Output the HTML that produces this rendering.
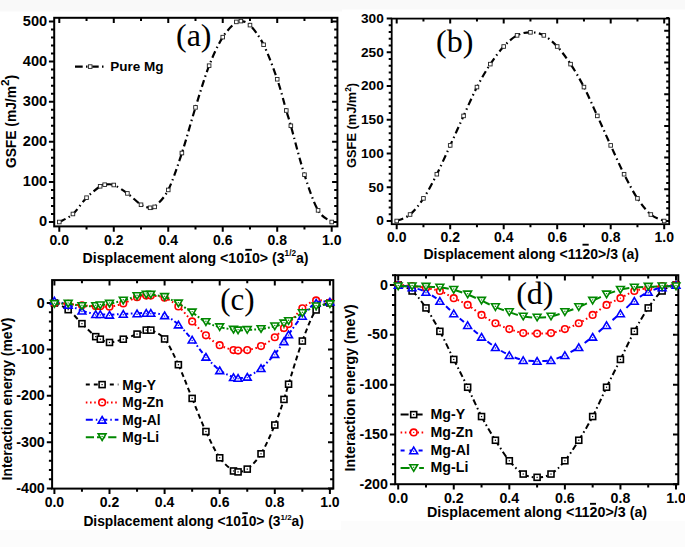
<!DOCTYPE html>
<html><head><meta charset="utf-8"><style>
html,body{margin:0;padding:0;background:#fff;width:685px;height:547px;overflow:hidden}
svg{display:block}
</style></head><body>
<svg width="685" height="547" viewBox="0 0 685 547" style="font-family:'Liberation Sans',sans-serif;font-weight:bold">
<rect x="0" y="0" width="685" height="547" fill="#fff"/>
<rect x="0" y="0" width="342" height="11.5" fill="#f9f9f9"/>
<rect x="342" y="0" width="343" height="9.5" fill="#f9f9f9"/>
<rect x="0" y="530" width="341" height="17" fill="#fcfcfc"/>
<rect x="341" y="521" width="344" height="26" fill="#fcfcfc"/>
<rect x="54.2" y="17.8" width="283.2" height="208.6" fill="none" stroke="#000" stroke-width="2"/>
<path d="M59.3,226.4v5.3 M59.3,17.8v5.3 M86.54,226.4v3.2 M86.54,17.8v3.2 M113.78,226.4v5.3 M113.78,17.8v5.3 M141.02,226.4v3.2 M141.02,17.8v3.2 M168.26,226.4v5.3 M168.26,17.8v5.3 M195.5,226.4v3.2 M195.5,17.8v3.2 M222.74,226.4v5.3 M222.74,17.8v5.3 M249.98,226.4v3.2 M249.98,17.8v3.2 M277.22,226.4v5.3 M277.22,17.8v5.3 M304.46,226.4v3.2 M304.46,17.8v3.2 M331.7,226.4v5.3 M331.7,17.8v5.3 M54.2,222h-5.3 M337.4,222h-5.3 M54.2,213.98h-3.2 M337.4,213.98h-3.2 M54.2,205.96h-3.2 M337.4,205.96h-3.2 M54.2,197.94h-3.2 M337.4,197.94h-3.2 M54.2,189.92h-3.2 M337.4,189.92h-3.2 M54.2,181.9h-5.3 M337.4,181.9h-5.3 M54.2,173.88h-3.2 M337.4,173.88h-3.2 M54.2,165.86h-3.2 M337.4,165.86h-3.2 M54.2,157.84h-3.2 M337.4,157.84h-3.2 M54.2,149.82h-3.2 M337.4,149.82h-3.2 M54.2,141.8h-5.3 M337.4,141.8h-5.3 M54.2,133.78h-3.2 M337.4,133.78h-3.2 M54.2,125.76h-3.2 M337.4,125.76h-3.2 M54.2,117.74h-3.2 M337.4,117.74h-3.2 M54.2,109.72h-3.2 M337.4,109.72h-3.2 M54.2,101.7h-5.3 M337.4,101.7h-5.3 M54.2,93.68h-3.2 M337.4,93.68h-3.2 M54.2,85.66h-3.2 M337.4,85.66h-3.2 M54.2,77.64h-3.2 M337.4,77.64h-3.2 M54.2,69.62h-3.2 M337.4,69.62h-3.2 M54.2,61.6h-5.3 M337.4,61.6h-5.3 M54.2,53.58h-3.2 M337.4,53.58h-3.2 M54.2,45.56h-3.2 M337.4,45.56h-3.2 M54.2,37.54h-3.2 M337.4,37.54h-3.2 M54.2,29.52h-3.2 M337.4,29.52h-3.2 M54.2,21.5h-5.3 M337.4,21.5h-5.3" stroke="#000" stroke-width="2" fill="none"/>
<text x="59.3" y="245" font-size="14" text-anchor="middle">0.0</text>
<text x="113.78" y="245" font-size="14" text-anchor="middle">0.2</text>
<text x="168.26" y="245" font-size="14" text-anchor="middle">0.4</text>
<text x="222.74" y="245" font-size="14" text-anchor="middle">0.6</text>
<text x="277.22" y="245" font-size="14" text-anchor="middle">0.8</text>
<text x="331.7" y="245" font-size="14" text-anchor="middle">1.0</text>
<text x="47.2" y="226.2" font-size="14.6" text-anchor="end">0</text>
<text x="47.2" y="186.1" font-size="14.6" text-anchor="end">100</text>
<text x="47.2" y="146" font-size="14.6" text-anchor="end">200</text>
<text x="47.2" y="105.9" font-size="14.6" text-anchor="end">300</text>
<text x="47.2" y="65.8" font-size="14.6" text-anchor="end">400</text>
<text x="47.2" y="25.7" font-size="14.6" text-anchor="end">500</text>
<text x="82.6" y="262.6" font-size="14.15">Displacement along &lt;1010&gt; (3<tspan font-size="8.21" dy="-6.79">1/2</tspan><tspan dy="6.79">a)</tspan></text><path d="M245.3,249.8H251.9" stroke="#000" stroke-width="1.9"/>
<text transform="translate(16,121.5) rotate(-90)" font-size="13.8" text-anchor="middle">GSFE (mJ/m<tspan font-size="11.73" dy="-6.9">2</tspan><tspan dy="6.9">)</tspan></text>
<text x="193.75" y="45.58" font-size="32" text-anchor="middle" font-family="Liberation Serif, serif" font-weight="normal">(a)</text>
<path d="M59.3,222 C61.57,220.66 68.38,218.03 72.92,213.98 C77.46,209.93 82,202.31 86.54,197.7 C91.08,193.09 97.13,188.48 100.16,186.31 C103.19,184.15 102.43,184.93 104.7,184.71 C106.97,184.49 110,183.54 113.78,184.99 C117.56,186.44 122.86,190.11 127.4,193.41 C131.94,196.7 137.24,202.36 141.02,204.76 C144.8,207.16 147.83,207.45 150.1,207.8 C152.37,208.16 151.61,209.86 154.64,206.88 C157.67,203.9 163.72,198.9 168.26,189.92 C172.8,180.94 177.34,166.78 181.88,153.03 C186.42,139.27 190.96,121.95 195.5,107.39 C200.04,92.84 204.58,77.4 209.12,65.69 C213.66,53.98 218.2,44.44 222.74,37.14 C227.28,29.84 233.33,24.57 236.36,21.9 C239.39,19.23 238.63,20.56 240.9,21.1 C243.17,21.63 246.2,21.17 249.98,25.11 C253.76,29.05 259.06,35.74 263.6,44.76 C268.14,53.78 273.44,68.28 277.22,79.24 C281,90.2 284.03,102.77 286.3,110.52 C288.57,118.27 287.81,115.07 290.84,125.76 C293.87,136.45 299.92,160.58 304.46,174.68 C309,188.78 313.54,202.48 318.08,210.37 C322.62,218.26 329.43,220.06 331.7,222" fill="none" stroke="#000" stroke-width="2.2" stroke-dasharray="7 3.5 1.5 3.5" stroke-linecap="butt"/>
<rect x="57.5" y="220.2" width="3.6" height="3.6" fill="#fff" stroke="#222" stroke-width="0.9"/>
<rect x="71.12" y="212.18" width="3.6" height="3.6" fill="#fff" stroke="#222" stroke-width="0.9"/>
<rect x="84.74" y="195.9" width="3.6" height="3.6" fill="#fff" stroke="#222" stroke-width="0.9"/>
<rect x="98.36" y="184.51" width="3.6" height="3.6" fill="#fff" stroke="#222" stroke-width="0.9"/>
<rect x="102.9" y="182.91" width="3.6" height="3.6" fill="#fff" stroke="#222" stroke-width="0.9"/>
<rect x="111.98" y="183.19" width="3.6" height="3.6" fill="#fff" stroke="#222" stroke-width="0.9"/>
<rect x="125.6" y="191.61" width="3.6" height="3.6" fill="#fff" stroke="#222" stroke-width="0.9"/>
<rect x="139.22" y="202.96" width="3.6" height="3.6" fill="#fff" stroke="#222" stroke-width="0.9"/>
<rect x="148.3" y="206" width="3.6" height="3.6" fill="#fff" stroke="#222" stroke-width="0.9"/>
<rect x="152.84" y="205.08" width="3.6" height="3.6" fill="#fff" stroke="#222" stroke-width="0.9"/>
<rect x="166.46" y="188.12" width="3.6" height="3.6" fill="#fff" stroke="#222" stroke-width="0.9"/>
<rect x="180.08" y="151.23" width="3.6" height="3.6" fill="#fff" stroke="#222" stroke-width="0.9"/>
<rect x="193.7" y="105.59" width="3.6" height="3.6" fill="#fff" stroke="#222" stroke-width="0.9"/>
<rect x="207.32" y="63.89" width="3.6" height="3.6" fill="#fff" stroke="#222" stroke-width="0.9"/>
<rect x="220.94" y="35.34" width="3.6" height="3.6" fill="#fff" stroke="#222" stroke-width="0.9"/>
<rect x="234.56" y="20.1" width="3.6" height="3.6" fill="#fff" stroke="#222" stroke-width="0.9"/>
<rect x="239.1" y="19.3" width="3.6" height="3.6" fill="#fff" stroke="#222" stroke-width="0.9"/>
<rect x="248.18" y="23.31" width="3.6" height="3.6" fill="#fff" stroke="#222" stroke-width="0.9"/>
<rect x="261.8" y="42.96" width="3.6" height="3.6" fill="#fff" stroke="#222" stroke-width="0.9"/>
<rect x="275.42" y="77.44" width="3.6" height="3.6" fill="#fff" stroke="#222" stroke-width="0.9"/>
<rect x="284.5" y="108.72" width="3.6" height="3.6" fill="#fff" stroke="#222" stroke-width="0.9"/>
<rect x="289.04" y="123.96" width="3.6" height="3.6" fill="#fff" stroke="#222" stroke-width="0.9"/>
<rect x="302.66" y="172.88" width="3.6" height="3.6" fill="#fff" stroke="#222" stroke-width="0.9"/>
<rect x="316.28" y="208.57" width="3.6" height="3.6" fill="#fff" stroke="#222" stroke-width="0.9"/>
<rect x="329.9" y="220.2" width="3.6" height="3.6" fill="#fff" stroke="#222" stroke-width="0.9"/>
<path d="M75,66.6h7.7M86,66.6h1.5M92.3,66.6h6.4M102,66.6h1.5" stroke="#000" stroke-width="2.2"/>
<rect x="88.4" y="64.8" width="3.6" height="3.6" fill="#fff" stroke="#222" stroke-width="0.9"/>
<text x="110.3" y="71" font-size="13.5">Pure Mg</text>
<rect x="391.7" y="18.6" width="277.5" height="205.6" fill="none" stroke="#000" stroke-width="1.8"/>
<path d="M396.7,224.2v5 M396.7,18.6v5 M423.45,224.2v3 M423.45,18.6v3 M450.2,224.2v5 M450.2,18.6v5 M476.95,224.2v3 M476.95,18.6v3 M503.7,224.2v5 M503.7,18.6v5 M530.45,224.2v3 M530.45,18.6v3 M557.2,224.2v5 M557.2,18.6v5 M583.95,224.2v3 M583.95,18.6v3 M610.7,224.2v5 M610.7,18.6v5 M637.45,224.2v3 M637.45,18.6v3 M664.2,224.2v5 M664.2,18.6v5 M391.7,221h-5 M391.7,214.25h-3 M391.7,207.5h-3 M391.7,200.75h-3 M391.7,194h-3 M391.7,187.25h-5 M391.7,180.5h-3 M391.7,173.75h-3 M391.7,167h-3 M391.7,160.25h-3 M391.7,153.5h-5 M391.7,146.75h-3 M391.7,140h-3 M391.7,133.25h-3 M391.7,126.5h-3 M391.7,119.75h-5 M391.7,113h-3 M391.7,106.25h-3 M391.7,99.5h-3 M391.7,92.75h-3 M391.7,86h-5 M391.7,79.25h-3 M391.7,72.5h-3 M391.7,65.75h-3 M391.7,59h-3 M391.7,52.25h-5 M391.7,45.5h-3 M391.7,38.75h-3 M391.7,32h-3 M391.7,25.25h-3 M391.7,18.5h-5 M669.2,221h-5 M669.2,214.66h-3 M669.2,208.32h-3 M669.2,201.98h-3 M669.2,195.64h-3 M669.2,189.3h-5 M669.2,182.96h-3 M669.2,176.62h-3 M669.2,170.28h-3 M669.2,163.94h-3 M669.2,157.6h-5 M669.2,151.26h-3 M669.2,144.92h-3 M669.2,138.58h-3 M669.2,132.24h-3 M669.2,125.9h-5 M669.2,119.56h-3 M669.2,113.22h-3 M669.2,106.88h-3 M669.2,100.54h-3 M669.2,94.2h-5 M669.2,87.86h-3 M669.2,81.52h-3 M669.2,75.18h-3 M669.2,68.84h-3 M669.2,62.5h-5 M669.2,56.16h-3 M669.2,49.82h-3 M669.2,43.48h-3 M669.2,37.14h-3 M669.2,30.8h-5 M669.2,24.46h-3 M669.2,18.12h-3" stroke="#000" stroke-width="2" fill="none"/>
<text x="396.7" y="242.4" font-size="14" text-anchor="middle">0.0</text>
<text x="450.2" y="242.4" font-size="14" text-anchor="middle">0.2</text>
<text x="503.7" y="242.4" font-size="14" text-anchor="middle">0.4</text>
<text x="557.2" y="242.4" font-size="14" text-anchor="middle">0.6</text>
<text x="610.7" y="242.4" font-size="14" text-anchor="middle">0.8</text>
<text x="664.2" y="242.4" font-size="14" text-anchor="middle">1.0</text>
<text x="383.8" y="225.4" font-size="13.7" text-anchor="end">0</text>
<text x="383.8" y="191.65" font-size="13.7" text-anchor="end">50</text>
<text x="383.8" y="157.9" font-size="13.7" text-anchor="end">100</text>
<text x="383.8" y="124.15" font-size="13.7" text-anchor="end">150</text>
<text x="383.8" y="90.4" font-size="13.7" text-anchor="end">200</text>
<text x="383.8" y="56.65" font-size="13.7" text-anchor="end">250</text>
<text x="383.8" y="22.9" font-size="13.7" text-anchor="end">300</text>
<text x="423.4" y="258.9" font-size="14">Displacement along &lt;1120&gt;/3 (a)</text><path d="M582.5,244.7H588.7" stroke="#000" stroke-width="1.9"/>
<text transform="translate(356,125.4) rotate(-90)" font-size="12.8" text-anchor="middle">GSFE (mJ/m<tspan font-size="8.32" dy="-5.12">2</tspan><tspan dy="5.12">)</tspan></text>
<text x="454.75" y="51.98" font-size="32" text-anchor="middle" font-family="Liberation Serif, serif" font-weight="normal">(b)</text>
<path d="M396.7,221 C398.93,219.92 405.62,218.29 410.07,214.52 C414.53,210.75 418.99,205.1 423.45,198.39 C427.91,191.67 432.37,183.05 436.82,174.22 C441.28,165.39 445.74,155.12 450.2,145.4 C454.66,135.68 459.12,125.62 463.57,115.9 C468.03,106.18 472.49,95.71 476.95,87.08 C481.41,78.45 485.87,70.89 490.32,64.13 C494.78,57.37 499.24,51.3 503.7,46.51 C508.16,41.72 512.62,37.74 517.08,35.38 C521.53,33.01 525.99,32.34 530.45,32.34 C534.91,32.34 539.37,33.01 543.83,35.38 C548.28,37.74 552.74,41.72 557.2,46.51 C561.66,51.3 566.12,57.37 570.58,64.13 C575.03,70.89 579.49,78.45 583.95,87.08 C588.41,95.71 592.87,106.18 597.33,115.9 C601.78,125.62 606.24,135.68 610.7,145.4 C615.16,155.12 619.62,165.39 624.08,174.22 C628.53,183.05 632.99,191.67 637.45,198.39 C641.91,205.1 646.37,210.75 650.83,214.52 C655.28,218.29 661.97,219.92 664.2,221" fill="none" stroke="#000" stroke-width="2.2" stroke-dasharray="7 3.5 1.5 3.5" stroke-linecap="butt"/>
<rect x="394.9" y="219.2" width="3.6" height="3.6" fill="#fff" stroke="#222" stroke-width="0.9"/>
<rect x="408.27" y="212.72" width="3.6" height="3.6" fill="#fff" stroke="#222" stroke-width="0.9"/>
<rect x="421.65" y="196.59" width="3.6" height="3.6" fill="#fff" stroke="#222" stroke-width="0.9"/>
<rect x="435.02" y="172.42" width="3.6" height="3.6" fill="#fff" stroke="#222" stroke-width="0.9"/>
<rect x="448.4" y="143.6" width="3.6" height="3.6" fill="#fff" stroke="#222" stroke-width="0.9"/>
<rect x="461.77" y="114.1" width="3.6" height="3.6" fill="#fff" stroke="#222" stroke-width="0.9"/>
<rect x="475.15" y="85.28" width="3.6" height="3.6" fill="#fff" stroke="#222" stroke-width="0.9"/>
<rect x="488.52" y="62.33" width="3.6" height="3.6" fill="#fff" stroke="#222" stroke-width="0.9"/>
<rect x="501.9" y="44.71" width="3.6" height="3.6" fill="#fff" stroke="#222" stroke-width="0.9"/>
<rect x="515.28" y="33.58" width="3.6" height="3.6" fill="#fff" stroke="#222" stroke-width="0.9"/>
<rect x="528.65" y="30.54" width="3.6" height="3.6" fill="#fff" stroke="#222" stroke-width="0.9"/>
<rect x="542.03" y="33.58" width="3.6" height="3.6" fill="#fff" stroke="#222" stroke-width="0.9"/>
<rect x="555.4" y="44.71" width="3.6" height="3.6" fill="#fff" stroke="#222" stroke-width="0.9"/>
<rect x="568.78" y="62.33" width="3.6" height="3.6" fill="#fff" stroke="#222" stroke-width="0.9"/>
<rect x="582.15" y="85.28" width="3.6" height="3.6" fill="#fff" stroke="#222" stroke-width="0.9"/>
<rect x="595.53" y="114.1" width="3.6" height="3.6" fill="#fff" stroke="#222" stroke-width="0.9"/>
<rect x="608.9" y="143.6" width="3.6" height="3.6" fill="#fff" stroke="#222" stroke-width="0.9"/>
<rect x="622.28" y="172.42" width="3.6" height="3.6" fill="#fff" stroke="#222" stroke-width="0.9"/>
<rect x="635.65" y="196.59" width="3.6" height="3.6" fill="#fff" stroke="#222" stroke-width="0.9"/>
<rect x="649.03" y="212.72" width="3.6" height="3.6" fill="#fff" stroke="#222" stroke-width="0.9"/>
<rect x="662.4" y="219.2" width="3.6" height="3.6" fill="#fff" stroke="#222" stroke-width="0.9"/>
<rect x="52.1" y="280.1" width="281.2" height="208.5" fill="none" stroke="#000" stroke-width="2"/>
<path d="M54.4,488.6v5.3 M54.4,280.1v5.3 M81.95,488.6v3.2 M81.95,280.1v3.2 M109.5,488.6v5.3 M109.5,280.1v5.3 M137.05,488.6v3.2 M137.05,280.1v3.2 M164.6,488.6v5.3 M164.6,280.1v5.3 M192.15,488.6v3.2 M192.15,280.1v3.2 M219.7,488.6v5.3 M219.7,280.1v5.3 M247.25,488.6v3.2 M247.25,280.1v3.2 M274.8,488.6v5.3 M274.8,280.1v5.3 M302.35,488.6v3.2 M302.35,280.1v3.2 M329.9,488.6v5.3 M329.9,280.1v5.3 M52.1,488.6h-5.3 M333.3,488.6h-5.3 M52.1,479.32h-3.2 M333.3,479.32h-3.2 M52.1,470.04h-3.2 M333.3,470.04h-3.2 M52.1,460.76h-3.2 M333.3,460.76h-3.2 M52.1,451.48h-3.2 M333.3,451.48h-3.2 M52.1,442.2h-5.3 M333.3,442.2h-5.3 M52.1,432.92h-3.2 M333.3,432.92h-3.2 M52.1,423.64h-3.2 M333.3,423.64h-3.2 M52.1,414.36h-3.2 M333.3,414.36h-3.2 M52.1,405.08h-3.2 M333.3,405.08h-3.2 M52.1,395.8h-5.3 M333.3,395.8h-5.3 M52.1,386.52h-3.2 M333.3,386.52h-3.2 M52.1,377.24h-3.2 M333.3,377.24h-3.2 M52.1,367.96h-3.2 M333.3,367.96h-3.2 M52.1,358.68h-3.2 M333.3,358.68h-3.2 M52.1,349.4h-5.3 M333.3,349.4h-5.3 M52.1,340.12h-3.2 M333.3,340.12h-3.2 M52.1,330.84h-3.2 M333.3,330.84h-3.2 M52.1,321.56h-3.2 M333.3,321.56h-3.2 M52.1,312.28h-3.2 M333.3,312.28h-3.2 M52.1,303h-5.3 M333.3,303h-5.3" stroke="#000" stroke-width="2" fill="none"/>
<text x="54.4" y="507" font-size="14" text-anchor="middle">0.0</text>
<text x="109.5" y="507" font-size="14" text-anchor="middle">0.2</text>
<text x="164.6" y="507" font-size="14" text-anchor="middle">0.4</text>
<text x="219.7" y="507" font-size="14" text-anchor="middle">0.6</text>
<text x="274.8" y="507" font-size="14" text-anchor="middle">0.8</text>
<text x="329.9" y="507" font-size="14" text-anchor="middle">1.0</text>
<text x="44.8" y="493.2" font-size="14.3" text-anchor="end">-400</text>
<text x="44.8" y="446.8" font-size="14.3" text-anchor="end">-300</text>
<text x="44.8" y="400.4" font-size="14.3" text-anchor="end">-200</text>
<text x="44.8" y="354" font-size="14.3" text-anchor="end">-100</text>
<text x="44.8" y="307.6" font-size="14.3" text-anchor="end">0</text>
<text x="83.4" y="526.3" font-size="13.8">Displacement along &lt;1010&gt; (3<tspan font-size="8" dy="-6.62">1/2</tspan><tspan dy="6.62">a)</tspan></text><path d="M242.3,513.2H247.8" stroke="#000" stroke-width="1.9"/>
<text transform="translate(12.3,399) rotate(-90)" font-size="13.9" text-anchor="middle">Interaction energy (meV)</text>
<text x="237.45" y="310.03" font-size="31" text-anchor="middle" font-family="Liberation Serif, serif" font-weight="normal">(c)</text>
<path d="M54.4,303 C56.7,304.11 63.58,306.24 68.17,309.68 M68.17,309.68 C72.77,313.12 77.36,319.15 81.95,323.65 M81.95,323.65 C86.54,328.14 92.66,334.05 95.72,336.64 M95.72,336.64 C98.79,339.23 98.02,338.23 100.32,339.19 M100.32,339.19 C102.61,340.16 105.67,342.44 109.5,342.44 M109.5,342.44 C113.33,342.44 118.68,340.58 123.28,339.19 M123.28,339.19 C127.87,337.8 133.22,335.6 137.05,334.09 M137.05,334.09 C140.88,332.58 143.94,330.8 146.23,330.14 M146.23,330.14 C148.53,329.49 147.76,328.67 150.82,330.14 M150.82,330.14 C153.89,331.61 160.01,333.2 164.6,338.96 M164.6,338.96 C169.19,344.72 173.78,354.81 178.38,364.71 M178.38,364.71 C182.97,374.62 187.56,387.26 192.15,398.4 M192.15,398.4 C196.74,409.53 201.33,421.63 205.93,431.53 M205.93,431.53 C210.52,441.43 215.11,451.22 219.7,457.79 M219.7,457.79 C224.29,464.36 230.41,468.62 233.48,470.97 M233.48,470.97 C236.54,473.32 235.77,472.21 238.07,471.9 M238.07,471.9 C240.36,471.59 243.42,472.13 247.25,469.11 M247.25,469.11 C251.08,466.1 256.43,461.15 261.02,453.8 M261.02,453.8 C265.62,446.45 270.97,434.1 274.8,425.03 M274.8,425.03 C278.63,415.97 281.69,406.22 283.98,399.42 M283.98,399.42 C286.28,392.61 285.51,393.93 288.57,384.2 M288.57,384.2 C291.64,374.47 297.76,353.42 302.35,341.05 M302.35,341.05 C306.94,328.67 311.53,316.3 316.12,309.96 M316.12,309.96 C320.72,303.62 327.6,304.16 329.9,303" fill="none" stroke="#000" stroke-width="2" stroke-dasharray="5 3.3" stroke-linecap="butt"/>
<rect x="51.4" y="300" width="6" height="6" fill="#fff" stroke="#000" stroke-width="1.6"/><rect x="53.8" y="302.4" width="1.2" height="1.2" fill="#000"/>
<rect x="65.17" y="306.68" width="6" height="6" fill="#fff" stroke="#000" stroke-width="1.6"/><rect x="67.58" y="309.08" width="1.2" height="1.2" fill="#000"/>
<rect x="78.95" y="320.65" width="6" height="6" fill="#fff" stroke="#000" stroke-width="1.6"/><rect x="81.35" y="323.05" width="1.2" height="1.2" fill="#000"/>
<rect x="92.72" y="333.64" width="6" height="6" fill="#fff" stroke="#000" stroke-width="1.6"/><rect x="95.12" y="336.04" width="1.2" height="1.2" fill="#000"/>
<rect x="97.32" y="336.19" width="6" height="6" fill="#fff" stroke="#000" stroke-width="1.6"/><rect x="99.72" y="338.59" width="1.2" height="1.2" fill="#000"/>
<rect x="106.5" y="339.44" width="6" height="6" fill="#fff" stroke="#000" stroke-width="1.6"/><rect x="108.9" y="341.84" width="1.2" height="1.2" fill="#000"/>
<rect x="120.28" y="336.19" width="6" height="6" fill="#fff" stroke="#000" stroke-width="1.6"/><rect x="122.68" y="338.59" width="1.2" height="1.2" fill="#000"/>
<rect x="134.05" y="331.09" width="6" height="6" fill="#fff" stroke="#000" stroke-width="1.6"/><rect x="136.45" y="333.49" width="1.2" height="1.2" fill="#000"/>
<rect x="143.23" y="327.14" width="6" height="6" fill="#fff" stroke="#000" stroke-width="1.6"/><rect x="145.63" y="329.54" width="1.2" height="1.2" fill="#000"/>
<rect x="147.82" y="327.14" width="6" height="6" fill="#fff" stroke="#000" stroke-width="1.6"/><rect x="150.22" y="329.54" width="1.2" height="1.2" fill="#000"/>
<rect x="161.6" y="335.96" width="6" height="6" fill="#fff" stroke="#000" stroke-width="1.6"/><rect x="164" y="338.36" width="1.2" height="1.2" fill="#000"/>
<rect x="175.38" y="361.71" width="6" height="6" fill="#fff" stroke="#000" stroke-width="1.6"/><rect x="177.78" y="364.11" width="1.2" height="1.2" fill="#000"/>
<rect x="189.15" y="395.4" width="6" height="6" fill="#fff" stroke="#000" stroke-width="1.6"/><rect x="191.55" y="397.8" width="1.2" height="1.2" fill="#000"/>
<rect x="202.93" y="428.53" width="6" height="6" fill="#fff" stroke="#000" stroke-width="1.6"/><rect x="205.33" y="430.93" width="1.2" height="1.2" fill="#000"/>
<rect x="216.7" y="454.79" width="6" height="6" fill="#fff" stroke="#000" stroke-width="1.6"/><rect x="219.1" y="457.19" width="1.2" height="1.2" fill="#000"/>
<rect x="230.48" y="467.97" width="6" height="6" fill="#fff" stroke="#000" stroke-width="1.6"/><rect x="232.88" y="470.37" width="1.2" height="1.2" fill="#000"/>
<rect x="235.07" y="468.9" width="6" height="6" fill="#fff" stroke="#000" stroke-width="1.6"/><rect x="237.47" y="471.3" width="1.2" height="1.2" fill="#000"/>
<rect x="244.25" y="466.11" width="6" height="6" fill="#fff" stroke="#000" stroke-width="1.6"/><rect x="246.65" y="468.51" width="1.2" height="1.2" fill="#000"/>
<rect x="258.02" y="450.8" width="6" height="6" fill="#fff" stroke="#000" stroke-width="1.6"/><rect x="260.42" y="453.2" width="1.2" height="1.2" fill="#000"/>
<rect x="271.8" y="422.03" width="6" height="6" fill="#fff" stroke="#000" stroke-width="1.6"/><rect x="274.2" y="424.43" width="1.2" height="1.2" fill="#000"/>
<rect x="280.98" y="396.42" width="6" height="6" fill="#fff" stroke="#000" stroke-width="1.6"/><rect x="283.38" y="398.82" width="1.2" height="1.2" fill="#000"/>
<rect x="285.57" y="381.2" width="6" height="6" fill="#fff" stroke="#000" stroke-width="1.6"/><rect x="287.97" y="383.6" width="1.2" height="1.2" fill="#000"/>
<rect x="299.35" y="338.05" width="6" height="6" fill="#fff" stroke="#000" stroke-width="1.6"/><rect x="301.75" y="340.45" width="1.2" height="1.2" fill="#000"/>
<rect x="313.12" y="306.96" width="6" height="6" fill="#fff" stroke="#000" stroke-width="1.6"/><rect x="315.52" y="309.36" width="1.2" height="1.2" fill="#000"/>
<rect x="326.9" y="300" width="6" height="6" fill="#fff" stroke="#000" stroke-width="1.6"/><rect x="329.3" y="302.4" width="1.2" height="1.2" fill="#000"/>
<path d="M54.4,303 C56.7,303.15 63.58,303.54 68.17,303.93 M68.17,303.93 C72.77,304.31 77.36,304.93 81.95,305.32 M81.95,305.32 C86.54,305.71 92.66,306.09 95.72,306.25 M95.72,306.25 C98.79,306.4 98.02,306.17 100.32,306.25 M100.32,306.25 C102.61,306.33 105.67,307.18 109.5,306.71 M109.5,306.71 C113.33,306.25 118.68,305.05 123.28,303.46 M123.28,303.46 C127.87,301.88 133.22,298.51 137.05,297.2 M137.05,297.2 C140.88,295.89 143.94,295.85 146.23,295.58 M146.23,295.58 C148.53,295.31 147.76,295.23 150.82,295.58 M150.82,295.58 C153.89,295.92 160.01,295.85 164.6,297.66 M164.6,297.66 C169.19,299.47 173.78,302.47 178.38,306.43 M178.38,306.43 C182.97,310.39 187.56,316.61 192.15,321.42 M192.15,321.42 C196.74,326.23 201.33,331.33 205.93,335.29 M205.93,335.29 C210.52,339.26 215.11,342.76 219.7,345.22 M219.7,345.22 C224.29,347.69 230.41,349.21 233.48,350.1 M233.48,350.1 C236.54,350.99 235.77,350.56 238.07,350.56 M238.07,350.56 C240.36,350.56 243.42,350.84 247.25,350.1 M247.25,350.1 C251.08,349.35 256.43,348.25 261.02,346.11 M261.02,346.11 C265.62,343.96 270.97,340.25 274.8,337.24 M274.8,337.24 C278.63,334.23 281.69,330.24 283.98,328.06 M283.98,328.06 C286.28,325.87 285.51,327.41 288.57,324.11 M288.57,324.11 C291.64,320.82 297.76,312.24 302.35,308.29 M302.35,308.29 C306.94,304.34 311.53,301.36 316.12,300.4 M316.12,300.4 C320.72,299.44 327.6,302.18 329.9,302.54" fill="none" stroke="#f00" stroke-width="2" stroke-dasharray="1.6 2.6" stroke-linecap="butt"/>
<circle cx="54.4" cy="303" r="3.3" fill="#fff" stroke="#f00" stroke-width="1.6"/><circle cx="54.4" cy="303" r="0.7" fill="#f00"/>
<circle cx="68.17" cy="303.93" r="3.3" fill="#fff" stroke="#f00" stroke-width="1.6"/><circle cx="68.17" cy="303.93" r="0.7" fill="#f00"/>
<circle cx="81.95" cy="305.32" r="3.3" fill="#fff" stroke="#f00" stroke-width="1.6"/><circle cx="81.95" cy="305.32" r="0.7" fill="#f00"/>
<circle cx="95.72" cy="306.25" r="3.3" fill="#fff" stroke="#f00" stroke-width="1.6"/><circle cx="95.72" cy="306.25" r="0.7" fill="#f00"/>
<circle cx="100.32" cy="306.25" r="3.3" fill="#fff" stroke="#f00" stroke-width="1.6"/><circle cx="100.32" cy="306.25" r="0.7" fill="#f00"/>
<circle cx="109.5" cy="306.71" r="3.3" fill="#fff" stroke="#f00" stroke-width="1.6"/><circle cx="109.5" cy="306.71" r="0.7" fill="#f00"/>
<circle cx="123.28" cy="303.46" r="3.3" fill="#fff" stroke="#f00" stroke-width="1.6"/><circle cx="123.28" cy="303.46" r="0.7" fill="#f00"/>
<circle cx="137.05" cy="297.2" r="3.3" fill="#fff" stroke="#f00" stroke-width="1.6"/><circle cx="137.05" cy="297.2" r="0.7" fill="#f00"/>
<circle cx="146.23" cy="295.58" r="3.3" fill="#fff" stroke="#f00" stroke-width="1.6"/><circle cx="146.23" cy="295.58" r="0.7" fill="#f00"/>
<circle cx="150.82" cy="295.58" r="3.3" fill="#fff" stroke="#f00" stroke-width="1.6"/><circle cx="150.82" cy="295.58" r="0.7" fill="#f00"/>
<circle cx="164.6" cy="297.66" r="3.3" fill="#fff" stroke="#f00" stroke-width="1.6"/><circle cx="164.6" cy="297.66" r="0.7" fill="#f00"/>
<circle cx="178.38" cy="306.43" r="3.3" fill="#fff" stroke="#f00" stroke-width="1.6"/><circle cx="178.38" cy="306.43" r="0.7" fill="#f00"/>
<circle cx="192.15" cy="321.42" r="3.3" fill="#fff" stroke="#f00" stroke-width="1.6"/><circle cx="192.15" cy="321.42" r="0.7" fill="#f00"/>
<circle cx="205.93" cy="335.29" r="3.3" fill="#fff" stroke="#f00" stroke-width="1.6"/><circle cx="205.93" cy="335.29" r="0.7" fill="#f00"/>
<circle cx="219.7" cy="345.22" r="3.3" fill="#fff" stroke="#f00" stroke-width="1.6"/><circle cx="219.7" cy="345.22" r="0.7" fill="#f00"/>
<circle cx="233.48" cy="350.1" r="3.3" fill="#fff" stroke="#f00" stroke-width="1.6"/><circle cx="233.48" cy="350.1" r="0.7" fill="#f00"/>
<circle cx="238.07" cy="350.56" r="3.3" fill="#fff" stroke="#f00" stroke-width="1.6"/><circle cx="238.07" cy="350.56" r="0.7" fill="#f00"/>
<circle cx="247.25" cy="350.1" r="3.3" fill="#fff" stroke="#f00" stroke-width="1.6"/><circle cx="247.25" cy="350.1" r="0.7" fill="#f00"/>
<circle cx="261.02" cy="346.11" r="3.3" fill="#fff" stroke="#f00" stroke-width="1.6"/><circle cx="261.02" cy="346.11" r="0.7" fill="#f00"/>
<circle cx="274.8" cy="337.24" r="3.3" fill="#fff" stroke="#f00" stroke-width="1.6"/><circle cx="274.8" cy="337.24" r="0.7" fill="#f00"/>
<circle cx="283.98" cy="328.06" r="3.3" fill="#fff" stroke="#f00" stroke-width="1.6"/><circle cx="283.98" cy="328.06" r="0.7" fill="#f00"/>
<circle cx="288.57" cy="324.11" r="3.3" fill="#fff" stroke="#f00" stroke-width="1.6"/><circle cx="288.57" cy="324.11" r="0.7" fill="#f00"/>
<circle cx="302.35" cy="308.29" r="3.3" fill="#fff" stroke="#f00" stroke-width="1.6"/><circle cx="302.35" cy="308.29" r="0.7" fill="#f00"/>
<circle cx="316.12" cy="300.4" r="3.3" fill="#fff" stroke="#f00" stroke-width="1.6"/><circle cx="316.12" cy="300.4" r="0.7" fill="#f00"/>
<circle cx="329.9" cy="302.54" r="3.3" fill="#fff" stroke="#f00" stroke-width="1.6"/><circle cx="329.9" cy="302.54" r="0.7" fill="#f00"/>
<path d="M54.4,300.68 C56.7,301.38 63.58,303.19 68.17,304.86 M68.17,304.86 C72.77,306.53 77.36,309.16 81.95,310.7 M81.95,310.7 C86.54,312.25 92.66,313.56 95.72,314.14 M95.72,314.14 C98.79,314.71 98.02,314.03 100.32,314.14 M100.32,314.14 C102.61,314.24 105.67,314.82 109.5,314.79 M109.5,314.79 C113.33,314.75 118.68,314.14 123.28,313.9 M123.28,313.9 C127.87,313.67 133.22,313.56 137.05,313.39 M137.05,313.39 C140.88,313.22 143.94,312.97 146.23,312.88 M146.23,312.88 C148.53,312.8 147.76,312.48 150.82,312.88 M150.82,312.88 C153.89,313.29 160.01,313.35 164.6,315.3 M164.6,315.3 C169.19,317.24 173.78,320.52 178.38,324.58 M178.38,324.58 C182.97,328.64 187.56,334.28 192.15,339.66 M192.15,339.66 C196.74,345.03 201.33,351.72 205.93,356.82 M205.93,356.82 C210.52,361.93 215.11,366.88 219.7,370.28 M219.7,370.28 C224.29,373.68 230.41,375.96 233.48,377.24 M233.48,377.24 C236.54,378.52 235.77,378.01 238.07,377.94 M238.07,377.94 C240.36,377.86 243.42,378.4 247.25,376.78 M247.25,376.78 C251.08,375.15 256.43,371.98 261.02,368.19 M261.02,368.19 C265.62,364.4 270.97,358.53 274.8,354.04 M274.8,354.04 C278.63,349.55 281.69,344.56 283.98,341.28 M283.98,341.28 C286.28,338 285.51,338.6 288.57,334.37 M288.57,334.37 C291.64,330.14 297.76,321.16 302.35,315.9 M302.35,315.9 C306.94,310.64 311.53,305.2 316.12,302.81 M316.12,302.81 C320.72,300.43 327.6,301.81 329.9,301.61" fill="none" stroke="#00f" stroke-width="2" stroke-dasharray="5 2.5 1.6 2.5" stroke-linecap="butt"/>
<path d="M54.4,297.38L58.3,303.98L50.5,303.98Z" fill="#fff" stroke="#00f" stroke-width="1.6" stroke-linejoin="miter"/><circle cx="54.4" cy="301.48" r="0.7" fill="#00f"/>
<path d="M68.17,301.56L72.08,308.16L64.27,308.16Z" fill="#fff" stroke="#00f" stroke-width="1.6" stroke-linejoin="miter"/><circle cx="68.17" cy="305.66" r="0.7" fill="#00f"/>
<path d="M81.95,307.4L85.85,314L78.05,314Z" fill="#fff" stroke="#00f" stroke-width="1.6" stroke-linejoin="miter"/><circle cx="81.95" cy="311.5" r="0.7" fill="#00f"/>
<path d="M95.72,310.84L99.62,317.44L91.82,317.44Z" fill="#fff" stroke="#00f" stroke-width="1.6" stroke-linejoin="miter"/><circle cx="95.72" cy="314.94" r="0.7" fill="#00f"/>
<path d="M100.32,310.84L104.22,317.44L96.42,317.44Z" fill="#fff" stroke="#00f" stroke-width="1.6" stroke-linejoin="miter"/><circle cx="100.32" cy="314.94" r="0.7" fill="#00f"/>
<path d="M109.5,311.49L113.4,318.09L105.6,318.09Z" fill="#fff" stroke="#00f" stroke-width="1.6" stroke-linejoin="miter"/><circle cx="109.5" cy="315.59" r="0.7" fill="#00f"/>
<path d="M123.28,310.6L127.18,317.2L119.38,317.2Z" fill="#fff" stroke="#00f" stroke-width="1.6" stroke-linejoin="miter"/><circle cx="123.28" cy="314.7" r="0.7" fill="#00f"/>
<path d="M137.05,310.09L140.95,316.69L133.15,316.69Z" fill="#fff" stroke="#00f" stroke-width="1.6" stroke-linejoin="miter"/><circle cx="137.05" cy="314.19" r="0.7" fill="#00f"/>
<path d="M146.23,309.58L150.13,316.18L142.33,316.18Z" fill="#fff" stroke="#00f" stroke-width="1.6" stroke-linejoin="miter"/><circle cx="146.23" cy="313.68" r="0.7" fill="#00f"/>
<path d="M150.82,309.58L154.72,316.18L146.92,316.18Z" fill="#fff" stroke="#00f" stroke-width="1.6" stroke-linejoin="miter"/><circle cx="150.82" cy="313.68" r="0.7" fill="#00f"/>
<path d="M164.6,312L168.5,318.6L160.7,318.6Z" fill="#fff" stroke="#00f" stroke-width="1.6" stroke-linejoin="miter"/><circle cx="164.6" cy="316.1" r="0.7" fill="#00f"/>
<path d="M178.38,321.28L182.28,327.88L174.47,327.88Z" fill="#fff" stroke="#00f" stroke-width="1.6" stroke-linejoin="miter"/><circle cx="178.38" cy="325.38" r="0.7" fill="#00f"/>
<path d="M192.15,336.36L196.05,342.96L188.25,342.96Z" fill="#fff" stroke="#00f" stroke-width="1.6" stroke-linejoin="miter"/><circle cx="192.15" cy="340.46" r="0.7" fill="#00f"/>
<path d="M205.93,353.52L209.83,360.12L202.03,360.12Z" fill="#fff" stroke="#00f" stroke-width="1.6" stroke-linejoin="miter"/><circle cx="205.93" cy="357.62" r="0.7" fill="#00f"/>
<path d="M219.7,366.98L223.6,373.58L215.8,373.58Z" fill="#fff" stroke="#00f" stroke-width="1.6" stroke-linejoin="miter"/><circle cx="219.7" cy="371.08" r="0.7" fill="#00f"/>
<path d="M233.48,373.94L237.38,380.54L229.58,380.54Z" fill="#fff" stroke="#00f" stroke-width="1.6" stroke-linejoin="miter"/><circle cx="233.48" cy="378.04" r="0.7" fill="#00f"/>
<path d="M238.07,374.64L241.97,381.24L234.17,381.24Z" fill="#fff" stroke="#00f" stroke-width="1.6" stroke-linejoin="miter"/><circle cx="238.07" cy="378.74" r="0.7" fill="#00f"/>
<path d="M247.25,373.48L251.15,380.08L243.35,380.08Z" fill="#fff" stroke="#00f" stroke-width="1.6" stroke-linejoin="miter"/><circle cx="247.25" cy="377.58" r="0.7" fill="#00f"/>
<path d="M261.02,364.89L264.92,371.49L257.12,371.49Z" fill="#fff" stroke="#00f" stroke-width="1.6" stroke-linejoin="miter"/><circle cx="261.02" cy="368.99" r="0.7" fill="#00f"/>
<path d="M274.8,350.74L278.7,357.34L270.9,357.34Z" fill="#fff" stroke="#00f" stroke-width="1.6" stroke-linejoin="miter"/><circle cx="274.8" cy="354.84" r="0.7" fill="#00f"/>
<path d="M283.98,337.98L287.88,344.58L280.08,344.58Z" fill="#fff" stroke="#00f" stroke-width="1.6" stroke-linejoin="miter"/><circle cx="283.98" cy="342.08" r="0.7" fill="#00f"/>
<path d="M288.57,331.07L292.47,337.67L284.68,337.67Z" fill="#fff" stroke="#00f" stroke-width="1.6" stroke-linejoin="miter"/><circle cx="288.57" cy="335.17" r="0.7" fill="#00f"/>
<path d="M302.35,312.6L306.25,319.2L298.45,319.2Z" fill="#fff" stroke="#00f" stroke-width="1.6" stroke-linejoin="miter"/><circle cx="302.35" cy="316.7" r="0.7" fill="#00f"/>
<path d="M316.12,299.51L320.02,306.11L312.22,306.11Z" fill="#fff" stroke="#00f" stroke-width="1.6" stroke-linejoin="miter"/><circle cx="316.12" cy="303.61" r="0.7" fill="#00f"/>
<path d="M329.9,298.31L333.8,304.91L326,304.91Z" fill="#fff" stroke="#00f" stroke-width="1.6" stroke-linejoin="miter"/><circle cx="329.9" cy="302.41" r="0.7" fill="#00f"/>
<path d="M54.4,303.93 C56.7,303.89 63.58,303.35 68.17,303.7 M68.17,303.7 C72.77,304.04 77.36,305.63 81.95,306.02 M81.95,306.02 C86.54,306.4 92.66,306.13 95.72,306.02 M95.72,306.02 C98.79,305.9 98.02,305.71 100.32,305.32 M100.32,305.32 C102.61,304.93 105.67,304.49 109.5,303.7 M109.5,303.7 C113.33,302.9 118.68,301.82 123.28,300.54 M123.28,300.54 C127.87,299.26 133.22,297.02 137.05,296.04 M137.05,296.04 C140.88,295.06 143.94,294.88 146.23,294.65 M146.23,294.65 C148.53,294.42 147.76,294.26 150.82,294.65 M150.82,294.65 C153.89,295.03 160.01,295.5 164.6,296.97 M164.6,296.97 C169.19,298.44 173.78,300.89 178.38,303.46 M178.38,303.46 C182.97,306.04 187.56,309.33 192.15,312.42 M192.15,312.42 C196.74,315.51 201.33,319.57 205.93,322.02 M205.93,322.02 C210.52,324.48 215.11,325.85 219.7,327.13 M219.7,327.13 C224.29,328.4 230.41,329.14 233.48,329.68 M233.48,329.68 C236.54,330.22 235.77,330.34 238.07,330.38 M238.07,330.38 C240.36,330.41 243.42,330.14 247.25,329.91 M247.25,329.91 C251.08,329.68 256.43,329.58 261.02,328.98 M261.02,328.98 C265.62,328.39 270.97,327.27 274.8,326.34 M274.8,326.34 C278.63,325.41 281.69,324.31 283.98,323.42 M283.98,323.42 C286.28,322.53 285.51,322.72 288.57,321 M288.57,321 C291.64,319.29 297.76,315.57 302.35,313.12 M302.35,313.12 C306.94,310.66 311.53,307.73 316.12,306.25 M316.12,306.25 C320.72,304.76 327.6,304.55 329.9,304.21" fill="none" stroke="#080" stroke-width="2" stroke-dasharray="5 2 1.8 2" stroke-linecap="butt"/>
<path d="M54.4,307.23L58.3,300.63L50.5,300.63Z" fill="#fff" stroke="#080" stroke-width="1.6" stroke-linejoin="miter"/><circle cx="54.4" cy="303.13" r="0.7" fill="#080"/>
<path d="M68.17,307L72.08,300.4L64.27,300.4Z" fill="#fff" stroke="#080" stroke-width="1.6" stroke-linejoin="miter"/><circle cx="68.17" cy="302.9" r="0.7" fill="#080"/>
<path d="M81.95,309.32L85.85,302.72L78.05,302.72Z" fill="#fff" stroke="#080" stroke-width="1.6" stroke-linejoin="miter"/><circle cx="81.95" cy="305.22" r="0.7" fill="#080"/>
<path d="M95.72,309.32L99.62,302.72L91.82,302.72Z" fill="#fff" stroke="#080" stroke-width="1.6" stroke-linejoin="miter"/><circle cx="95.72" cy="305.22" r="0.7" fill="#080"/>
<path d="M100.32,308.62L104.22,302.02L96.42,302.02Z" fill="#fff" stroke="#080" stroke-width="1.6" stroke-linejoin="miter"/><circle cx="100.32" cy="304.52" r="0.7" fill="#080"/>
<path d="M109.5,307L113.4,300.4L105.6,300.4Z" fill="#fff" stroke="#080" stroke-width="1.6" stroke-linejoin="miter"/><circle cx="109.5" cy="302.9" r="0.7" fill="#080"/>
<path d="M123.28,303.84L127.18,297.24L119.38,297.24Z" fill="#fff" stroke="#080" stroke-width="1.6" stroke-linejoin="miter"/><circle cx="123.28" cy="299.74" r="0.7" fill="#080"/>
<path d="M137.05,299.34L140.95,292.74L133.15,292.74Z" fill="#fff" stroke="#080" stroke-width="1.6" stroke-linejoin="miter"/><circle cx="137.05" cy="295.24" r="0.7" fill="#080"/>
<path d="M146.23,297.95L150.13,291.35L142.33,291.35Z" fill="#fff" stroke="#080" stroke-width="1.6" stroke-linejoin="miter"/><circle cx="146.23" cy="293.85" r="0.7" fill="#080"/>
<path d="M150.82,297.95L154.72,291.35L146.92,291.35Z" fill="#fff" stroke="#080" stroke-width="1.6" stroke-linejoin="miter"/><circle cx="150.82" cy="293.85" r="0.7" fill="#080"/>
<path d="M164.6,300.27L168.5,293.67L160.7,293.67Z" fill="#fff" stroke="#080" stroke-width="1.6" stroke-linejoin="miter"/><circle cx="164.6" cy="296.17" r="0.7" fill="#080"/>
<path d="M178.38,306.76L182.28,300.16L174.47,300.16Z" fill="#fff" stroke="#080" stroke-width="1.6" stroke-linejoin="miter"/><circle cx="178.38" cy="302.66" r="0.7" fill="#080"/>
<path d="M192.15,315.72L196.05,309.12L188.25,309.12Z" fill="#fff" stroke="#080" stroke-width="1.6" stroke-linejoin="miter"/><circle cx="192.15" cy="311.62" r="0.7" fill="#080"/>
<path d="M205.93,325.32L209.83,318.72L202.03,318.72Z" fill="#fff" stroke="#080" stroke-width="1.6" stroke-linejoin="miter"/><circle cx="205.93" cy="321.22" r="0.7" fill="#080"/>
<path d="M219.7,330.43L223.6,323.83L215.8,323.83Z" fill="#fff" stroke="#080" stroke-width="1.6" stroke-linejoin="miter"/><circle cx="219.7" cy="326.33" r="0.7" fill="#080"/>
<path d="M233.48,332.98L237.38,326.38L229.58,326.38Z" fill="#fff" stroke="#080" stroke-width="1.6" stroke-linejoin="miter"/><circle cx="233.48" cy="328.88" r="0.7" fill="#080"/>
<path d="M238.07,333.68L241.97,327.08L234.17,327.08Z" fill="#fff" stroke="#080" stroke-width="1.6" stroke-linejoin="miter"/><circle cx="238.07" cy="329.58" r="0.7" fill="#080"/>
<path d="M247.25,333.21L251.15,326.61L243.35,326.61Z" fill="#fff" stroke="#080" stroke-width="1.6" stroke-linejoin="miter"/><circle cx="247.25" cy="329.11" r="0.7" fill="#080"/>
<path d="M261.02,332.28L264.92,325.68L257.12,325.68Z" fill="#fff" stroke="#080" stroke-width="1.6" stroke-linejoin="miter"/><circle cx="261.02" cy="328.18" r="0.7" fill="#080"/>
<path d="M274.8,329.64L278.7,323.04L270.9,323.04Z" fill="#fff" stroke="#080" stroke-width="1.6" stroke-linejoin="miter"/><circle cx="274.8" cy="325.54" r="0.7" fill="#080"/>
<path d="M283.98,326.72L287.88,320.12L280.08,320.12Z" fill="#fff" stroke="#080" stroke-width="1.6" stroke-linejoin="miter"/><circle cx="283.98" cy="322.62" r="0.7" fill="#080"/>
<path d="M288.57,324.3L292.47,317.7L284.68,317.7Z" fill="#fff" stroke="#080" stroke-width="1.6" stroke-linejoin="miter"/><circle cx="288.57" cy="320.2" r="0.7" fill="#080"/>
<path d="M302.35,316.42L306.25,309.82L298.45,309.82Z" fill="#fff" stroke="#080" stroke-width="1.6" stroke-linejoin="miter"/><circle cx="302.35" cy="312.32" r="0.7" fill="#080"/>
<path d="M316.12,309.55L320.02,302.95L312.22,302.95Z" fill="#fff" stroke="#080" stroke-width="1.6" stroke-linejoin="miter"/><circle cx="316.12" cy="305.45" r="0.7" fill="#080"/>
<path d="M329.9,307.51L333.8,300.91L326,300.91Z" fill="#fff" stroke="#080" stroke-width="1.6" stroke-linejoin="miter"/><circle cx="329.9" cy="303.41" r="0.7" fill="#080"/>
<path d="M85.8,384.6H118.4" stroke="#000" stroke-width="2" stroke-dasharray="4 4"/>
<rect x="99.1" y="381.6" width="6" height="6" fill="#fff" stroke="#000" stroke-width="1.6"/><rect x="101.5" y="384" width="1.2" height="1.2" fill="#000"/>
<text x="122.3" y="389.6" font-size="13.8">Mg-Y</text>
<path d="M85.8,402.4H118.4" stroke="#f00" stroke-width="2" stroke-dasharray="1.6 2.6"/>
<circle cx="102.1" cy="402.4" r="3.3" fill="#fff" stroke="#f00" stroke-width="1.6"/><circle cx="102.1" cy="402.4" r="0.7" fill="#f00"/>
<text x="122.3" y="407.4" font-size="13.8">Mg-Zn</text>
<path d="M85.8,419.8H118.4" stroke="#00f" stroke-width="2" stroke-dasharray="7 3 1.5 3"/>
<path d="M102.1,416.5L106,423.1L98.2,423.1Z" fill="#fff" stroke="#00f" stroke-width="1.6" stroke-linejoin="miter"/><circle cx="102.1" cy="420.6" r="0.7" fill="#00f"/>
<text x="122.3" y="424.8" font-size="13.8">Mg-Al</text>
<path d="M85.8,437.2H118.4" stroke="#080" stroke-width="2" stroke-dasharray="8.2 3"/>
<path d="M102.1,440.5L106,433.9L98.2,433.9Z" fill="#fff" stroke="#080" stroke-width="1.6" stroke-linejoin="miter"/><circle cx="102.1" cy="436.4" r="0.7" fill="#080"/>
<text x="122.3" y="442.2" font-size="13.8">Mg-Li</text>
<rect x="395.2" y="275.2" width="283.1" height="209" fill="none" stroke="#000" stroke-width="2"/>
<path d="M398.2,484.2v5.3 M398.2,275.2v5.3 M425.98,484.2v3.2 M425.98,275.2v3.2 M453.76,484.2v5.3 M453.76,275.2v5.3 M481.54,484.2v3.2 M481.54,275.2v3.2 M509.32,484.2v5.3 M509.32,275.2v5.3 M537.1,484.2v3.2 M537.1,275.2v3.2 M564.88,484.2v5.3 M564.88,275.2v5.3 M592.66,484.2v3.2 M592.66,275.2v3.2 M620.44,484.2v5.3 M620.44,275.2v5.3 M648.22,484.2v3.2 M648.22,275.2v3.2 M676,484.2v5.3 M676,275.2v5.3 M395.2,484.3h-5.3 M678.3,484.3h-5.3 M395.2,474.34h-3.2 M678.3,474.34h-3.2 M395.2,464.37h-3.2 M678.3,464.37h-3.2 M395.2,454.4h-3.2 M678.3,454.4h-3.2 M395.2,444.44h-3.2 M678.3,444.44h-3.2 M395.2,434.48h-5.3 M678.3,434.48h-5.3 M395.2,424.51h-3.2 M678.3,424.51h-3.2 M395.2,414.55h-3.2 M678.3,414.55h-3.2 M395.2,404.58h-3.2 M678.3,404.58h-3.2 M395.2,394.62h-3.2 M678.3,394.62h-3.2 M395.2,384.65h-5.3 M678.3,384.65h-5.3 M395.2,374.69h-3.2 M678.3,374.69h-3.2 M395.2,364.72h-3.2 M678.3,364.72h-3.2 M395.2,354.75h-3.2 M678.3,354.75h-3.2 M395.2,344.79h-3.2 M678.3,344.79h-3.2 M395.2,334.82h-5.3 M678.3,334.82h-5.3 M395.2,324.86h-3.2 M678.3,324.86h-3.2 M395.2,314.89h-3.2 M678.3,314.89h-3.2 M395.2,304.93h-3.2 M678.3,304.93h-3.2 M395.2,294.96h-3.2 M678.3,294.96h-3.2 M395.2,285h-5.3 M678.3,285h-5.3" stroke="#000" stroke-width="2" fill="none"/>
<text x="398.2" y="503.2" font-size="14.2" text-anchor="middle">0.0</text>
<text x="453.76" y="503.2" font-size="14.2" text-anchor="middle">0.2</text>
<text x="509.32" y="503.2" font-size="14.2" text-anchor="middle">0.4</text>
<text x="564.88" y="503.2" font-size="14.2" text-anchor="middle">0.6</text>
<text x="620.44" y="503.2" font-size="14.2" text-anchor="middle">0.8</text>
<text x="676" y="503.2" font-size="14.2" text-anchor="middle">1.0</text>
<text x="388" y="488.9" font-size="14.3" text-anchor="end">-200</text>
<text x="388" y="439.08" font-size="14.3" text-anchor="end">-150</text>
<text x="388" y="389.25" font-size="14.3" text-anchor="end">-100</text>
<text x="388" y="339.43" font-size="14.3" text-anchor="end">-50</text>
<text x="388" y="289.6" font-size="14.3" text-anchor="end">0</text>
<text x="427" y="517" font-size="14.3">Displacement along &lt;1120&gt;/3 (a)</text><path d="M590,503.8H596" stroke="#000" stroke-width="1.9"/>
<text transform="translate(355.3,387.9) rotate(-90)" font-size="14.25" text-anchor="middle">Interaction energy (meV)</text>
<text x="534.85" y="303.78" font-size="32" text-anchor="middle" font-family="Liberation Serif, serif" font-weight="normal">(d)</text>
<path d="M398.2,285 C400.51,286 407.46,287.16 412.09,290.98 M412.09,290.98 C416.72,294.8 421.35,301.19 425.98,307.92 M425.98,307.92 C430.61,314.65 435.24,322.75 439.87,331.34 M439.87,331.34 C444.5,339.92 449.13,350.12 453.76,359.44 M453.76,359.44 C458.39,368.76 463.02,377.72 467.65,387.24 M467.65,387.24 C472.28,396.76 476.91,407.7 481.54,416.54 M481.54,416.54 C486.17,425.37 490.8,432.88 495.43,440.25 M495.43,440.25 C500.06,447.63 504.69,455.15 509.32,460.78 M509.32,460.78 C513.95,466.41 518.58,471.28 523.21,474.04 M523.21,474.04 C527.84,476.79 532.47,477.32 537.1,477.32 M537.1,477.32 C541.73,477.32 546.36,476.79 550.99,474.04 M550.99,474.04 C555.62,471.28 560.25,466.41 564.88,460.78 M564.88,460.78 C569.51,455.15 574.14,447.63 578.77,440.25 M578.77,440.25 C583.4,432.88 588.03,425.37 592.66,416.54 M592.66,416.54 C597.29,407.7 601.92,396.76 606.55,387.24 M606.55,387.24 C611.18,377.72 615.81,368.76 620.44,359.44 M620.44,359.44 C625.07,350.12 629.7,339.92 634.33,331.34 M634.33,331.34 C638.96,322.75 643.59,314.65 648.22,307.92 M648.22,307.92 C652.85,301.19 657.48,294.8 662.11,290.98 M662.11,290.98 C666.74,287.16 673.68,286 676,285" fill="none" stroke="#000" stroke-width="2" stroke-dasharray="6 3 1.6 3" stroke-linecap="butt"/>
<rect x="395.2" y="282" width="6" height="6" fill="#fff" stroke="#000" stroke-width="1.6"/><rect x="397.6" y="284.4" width="1.2" height="1.2" fill="#000"/>
<rect x="409.09" y="287.98" width="6" height="6" fill="#fff" stroke="#000" stroke-width="1.6"/><rect x="411.49" y="290.38" width="1.2" height="1.2" fill="#000"/>
<rect x="422.98" y="304.92" width="6" height="6" fill="#fff" stroke="#000" stroke-width="1.6"/><rect x="425.38" y="307.32" width="1.2" height="1.2" fill="#000"/>
<rect x="436.87" y="328.34" width="6" height="6" fill="#fff" stroke="#000" stroke-width="1.6"/><rect x="439.27" y="330.74" width="1.2" height="1.2" fill="#000"/>
<rect x="450.76" y="356.44" width="6" height="6" fill="#fff" stroke="#000" stroke-width="1.6"/><rect x="453.16" y="358.84" width="1.2" height="1.2" fill="#000"/>
<rect x="464.65" y="384.24" width="6" height="6" fill="#fff" stroke="#000" stroke-width="1.6"/><rect x="467.05" y="386.64" width="1.2" height="1.2" fill="#000"/>
<rect x="478.54" y="413.54" width="6" height="6" fill="#fff" stroke="#000" stroke-width="1.6"/><rect x="480.94" y="415.94" width="1.2" height="1.2" fill="#000"/>
<rect x="492.43" y="437.25" width="6" height="6" fill="#fff" stroke="#000" stroke-width="1.6"/><rect x="494.83" y="439.65" width="1.2" height="1.2" fill="#000"/>
<rect x="506.32" y="457.78" width="6" height="6" fill="#fff" stroke="#000" stroke-width="1.6"/><rect x="508.72" y="460.18" width="1.2" height="1.2" fill="#000"/>
<rect x="520.21" y="471.04" width="6" height="6" fill="#fff" stroke="#000" stroke-width="1.6"/><rect x="522.61" y="473.44" width="1.2" height="1.2" fill="#000"/>
<rect x="534.1" y="474.32" width="6" height="6" fill="#fff" stroke="#000" stroke-width="1.6"/><rect x="536.5" y="476.72" width="1.2" height="1.2" fill="#000"/>
<rect x="547.99" y="471.04" width="6" height="6" fill="#fff" stroke="#000" stroke-width="1.6"/><rect x="550.39" y="473.44" width="1.2" height="1.2" fill="#000"/>
<rect x="561.88" y="457.78" width="6" height="6" fill="#fff" stroke="#000" stroke-width="1.6"/><rect x="564.28" y="460.18" width="1.2" height="1.2" fill="#000"/>
<rect x="575.77" y="437.25" width="6" height="6" fill="#fff" stroke="#000" stroke-width="1.6"/><rect x="578.17" y="439.65" width="1.2" height="1.2" fill="#000"/>
<rect x="589.66" y="413.54" width="6" height="6" fill="#fff" stroke="#000" stroke-width="1.6"/><rect x="592.06" y="415.94" width="1.2" height="1.2" fill="#000"/>
<rect x="603.55" y="384.24" width="6" height="6" fill="#fff" stroke="#000" stroke-width="1.6"/><rect x="605.95" y="386.64" width="1.2" height="1.2" fill="#000"/>
<rect x="617.44" y="356.44" width="6" height="6" fill="#fff" stroke="#000" stroke-width="1.6"/><rect x="619.84" y="358.84" width="1.2" height="1.2" fill="#000"/>
<rect x="631.33" y="328.34" width="6" height="6" fill="#fff" stroke="#000" stroke-width="1.6"/><rect x="633.73" y="330.74" width="1.2" height="1.2" fill="#000"/>
<rect x="645.22" y="304.92" width="6" height="6" fill="#fff" stroke="#000" stroke-width="1.6"/><rect x="647.62" y="307.32" width="1.2" height="1.2" fill="#000"/>
<rect x="659.11" y="287.98" width="6" height="6" fill="#fff" stroke="#000" stroke-width="1.6"/><rect x="661.51" y="290.38" width="1.2" height="1.2" fill="#000"/>
<rect x="673" y="282" width="6" height="6" fill="#fff" stroke="#000" stroke-width="1.6"/><rect x="675.4" y="284.4" width="1.2" height="1.2" fill="#000"/>
<path d="M398.2,285 C400.51,285.17 407.46,285.5 412.09,286 M412.09,286 C416.72,286.49 421.35,287.16 425.98,287.99 M425.98,287.99 C430.61,288.82 435.24,289.28 439.87,290.98 M439.87,290.98 C444.5,292.67 449.13,295.83 453.76,298.15 M453.76,298.15 C458.39,300.48 463.02,302.14 467.65,304.93 M467.65,304.93 C472.28,307.72 476.91,311.84 481.54,314.89 M481.54,314.89 C486.17,317.95 490.8,320.91 495.43,323.27 M495.43,323.27 C500.06,325.62 504.69,327.42 509.32,329.05 M509.32,329.05 C513.95,330.67 518.58,332.28 523.21,333.03 M523.21,333.03 C527.84,333.78 532.47,333.53 537.1,333.53 M537.1,333.53 C541.73,333.53 546.36,333.78 550.99,333.03 M550.99,333.03 C555.62,332.28 560.25,330.67 564.88,329.05 M564.88,329.05 C569.51,327.42 574.14,325.62 578.77,323.27 M578.77,323.27 C583.4,320.91 588.03,317.95 592.66,314.89 M592.66,314.89 C597.29,311.84 601.92,307.72 606.55,304.93 M606.55,304.93 C611.18,302.14 615.81,300.48 620.44,298.15 M620.44,298.15 C625.07,295.83 629.7,292.67 634.33,290.98 M634.33,290.98 C638.96,289.28 643.59,288.82 648.22,287.99 M648.22,287.99 C652.85,287.16 657.48,286.49 662.11,286 M662.11,286 C666.74,285.5 673.68,285.17 676,285" fill="none" stroke="#f00" stroke-width="2" stroke-dasharray="1.6 2.6" stroke-linecap="butt"/>
<circle cx="398.2" cy="285" r="3.3" fill="#fff" stroke="#f00" stroke-width="1.6"/><circle cx="398.2" cy="285" r="0.7" fill="#f00"/>
<circle cx="412.09" cy="286" r="3.3" fill="#fff" stroke="#f00" stroke-width="1.6"/><circle cx="412.09" cy="286" r="0.7" fill="#f00"/>
<circle cx="425.98" cy="287.99" r="3.3" fill="#fff" stroke="#f00" stroke-width="1.6"/><circle cx="425.98" cy="287.99" r="0.7" fill="#f00"/>
<circle cx="439.87" cy="290.98" r="3.3" fill="#fff" stroke="#f00" stroke-width="1.6"/><circle cx="439.87" cy="290.98" r="0.7" fill="#f00"/>
<circle cx="453.76" cy="298.15" r="3.3" fill="#fff" stroke="#f00" stroke-width="1.6"/><circle cx="453.76" cy="298.15" r="0.7" fill="#f00"/>
<circle cx="467.65" cy="304.93" r="3.3" fill="#fff" stroke="#f00" stroke-width="1.6"/><circle cx="467.65" cy="304.93" r="0.7" fill="#f00"/>
<circle cx="481.54" cy="314.89" r="3.3" fill="#fff" stroke="#f00" stroke-width="1.6"/><circle cx="481.54" cy="314.89" r="0.7" fill="#f00"/>
<circle cx="495.43" cy="323.27" r="3.3" fill="#fff" stroke="#f00" stroke-width="1.6"/><circle cx="495.43" cy="323.27" r="0.7" fill="#f00"/>
<circle cx="509.32" cy="329.05" r="3.3" fill="#fff" stroke="#f00" stroke-width="1.6"/><circle cx="509.32" cy="329.05" r="0.7" fill="#f00"/>
<circle cx="523.21" cy="333.03" r="3.3" fill="#fff" stroke="#f00" stroke-width="1.6"/><circle cx="523.21" cy="333.03" r="0.7" fill="#f00"/>
<circle cx="537.1" cy="333.53" r="3.3" fill="#fff" stroke="#f00" stroke-width="1.6"/><circle cx="537.1" cy="333.53" r="0.7" fill="#f00"/>
<circle cx="550.99" cy="333.03" r="3.3" fill="#fff" stroke="#f00" stroke-width="1.6"/><circle cx="550.99" cy="333.03" r="0.7" fill="#f00"/>
<circle cx="564.88" cy="329.05" r="3.3" fill="#fff" stroke="#f00" stroke-width="1.6"/><circle cx="564.88" cy="329.05" r="0.7" fill="#f00"/>
<circle cx="578.77" cy="323.27" r="3.3" fill="#fff" stroke="#f00" stroke-width="1.6"/><circle cx="578.77" cy="323.27" r="0.7" fill="#f00"/>
<circle cx="592.66" cy="314.89" r="3.3" fill="#fff" stroke="#f00" stroke-width="1.6"/><circle cx="592.66" cy="314.89" r="0.7" fill="#f00"/>
<circle cx="606.55" cy="304.93" r="3.3" fill="#fff" stroke="#f00" stroke-width="1.6"/><circle cx="606.55" cy="304.93" r="0.7" fill="#f00"/>
<circle cx="620.44" cy="298.15" r="3.3" fill="#fff" stroke="#f00" stroke-width="1.6"/><circle cx="620.44" cy="298.15" r="0.7" fill="#f00"/>
<circle cx="634.33" cy="290.98" r="3.3" fill="#fff" stroke="#f00" stroke-width="1.6"/><circle cx="634.33" cy="290.98" r="0.7" fill="#f00"/>
<circle cx="648.22" cy="287.99" r="3.3" fill="#fff" stroke="#f00" stroke-width="1.6"/><circle cx="648.22" cy="287.99" r="0.7" fill="#f00"/>
<circle cx="662.11" cy="286" r="3.3" fill="#fff" stroke="#f00" stroke-width="1.6"/><circle cx="662.11" cy="286" r="0.7" fill="#f00"/>
<circle cx="676" cy="285" r="3.3" fill="#fff" stroke="#f00" stroke-width="1.6"/><circle cx="676" cy="285" r="0.7" fill="#f00"/>
<path d="M398.2,285 C400.51,285.42 407.46,286.33 412.09,287.49" fill="none" stroke="#00f" stroke-width="2" stroke-dasharray="0 5.34 5.5 24.12"/>
<path d="M412.09,287.49 C416.72,288.65 421.35,289.73 425.98,291.98" fill="none" stroke="#00f" stroke-width="2" stroke-dasharray="0 5.66 5.5 24.62"/>
<path d="M425.98,291.98 C430.61,294.22 435.24,297.37 439.87,300.94" fill="none" stroke="#00f" stroke-width="2" stroke-dasharray="0 6.86 5.5 26.56"/>
<path d="M439.87,300.94 C444.5,304.51 449.13,309.36 453.76,313.4" fill="none" stroke="#00f" stroke-width="2" stroke-dasharray="0 8.16 5.5 28.66"/>
<path d="M453.76,313.4 C458.39,317.44 463.02,321.26 467.65,325.16" fill="none" stroke="#00f" stroke-width="2" stroke-dasharray="0 7.87 5.5 28.2"/>
<path d="M467.65,325.16 C472.28,329.06 476.91,333.15 481.54,336.82" fill="none" stroke="#00f" stroke-width="2" stroke-dasharray="0 7.83 5.5 28.14"/>
<path d="M481.54,336.82 C486.17,340.49 490.8,344.13 495.43,347.18" fill="none" stroke="#00f" stroke-width="2" stroke-dasharray="0 7.34 5.5 27.34"/>
<path d="M495.43,347.18 C500.06,350.24 504.69,352.99 509.32,355.15" fill="none" stroke="#00f" stroke-width="2" stroke-dasharray="0 6.53 5.5 26.03"/>
<path d="M509.32,355.15 C513.95,357.31 518.58,359.17 523.21,360.14" fill="none" stroke="#00f" stroke-width="2" stroke-dasharray="0 5.76 5.5 24.79"/>
<path d="M523.21,360.14 C527.84,361.1 532.47,360.93 537.1,360.93" fill="none" stroke="#00f" stroke-width="2" stroke-dasharray="0 5.23 5.5 23.94"/>
<path d="M537.1,360.93 C541.73,360.93 546.36,361.1 550.99,360.14" fill="none" stroke="#00f" stroke-width="2" stroke-dasharray="0 5.23 5.5 23.94"/>
<path d="M550.99,360.14 C555.62,359.17 560.25,357.31 564.88,355.15" fill="none" stroke="#00f" stroke-width="2" stroke-dasharray="0 5.76 5.5 24.79"/>
<path d="M564.88,355.15 C569.51,352.99 574.14,350.24 578.77,347.18" fill="none" stroke="#00f" stroke-width="2" stroke-dasharray="0 6.53 5.5 26.03"/>
<path d="M578.77,347.18 C583.4,344.13 588.03,340.49 592.66,336.82" fill="none" stroke="#00f" stroke-width="2" stroke-dasharray="0 7.34 5.5 27.34"/>
<path d="M592.66,336.82 C597.29,333.15 601.92,329.06 606.55,325.16" fill="none" stroke="#00f" stroke-width="2" stroke-dasharray="0 7.83 5.5 28.14"/>
<path d="M606.55,325.16 C611.18,321.26 615.81,317.44 620.44,313.4" fill="none" stroke="#00f" stroke-width="2" stroke-dasharray="0 7.87 5.5 28.2"/>
<path d="M620.44,313.4 C625.07,309.36 629.7,304.51 634.33,300.94" fill="none" stroke="#00f" stroke-width="2" stroke-dasharray="0 8.16 5.5 28.66"/>
<path d="M634.33,300.94 C638.96,297.37 643.59,294.22 648.22,291.98" fill="none" stroke="#00f" stroke-width="2" stroke-dasharray="0 6.86 5.5 26.56"/>
<path d="M648.22,291.98 C652.85,289.73 657.48,288.65 662.11,287.49" fill="none" stroke="#00f" stroke-width="2" stroke-dasharray="0 5.66 5.5 24.62"/>
<path d="M662.11,287.49 C666.74,286.33 673.68,285.42 676,285" fill="none" stroke="#00f" stroke-width="2" stroke-dasharray="0 5.34 5.5 24.12"/>
<path d="M398.2,281.7L402.1,288.3L394.3,288.3Z" fill="#fff" stroke="#00f" stroke-width="1.6" stroke-linejoin="miter"/><circle cx="398.2" cy="285.8" r="0.7" fill="#00f"/>
<path d="M412.09,284.19L415.99,290.79L408.19,290.79Z" fill="#fff" stroke="#00f" stroke-width="1.6" stroke-linejoin="miter"/><circle cx="412.09" cy="288.29" r="0.7" fill="#00f"/>
<path d="M425.98,288.68L429.88,295.28L422.08,295.28Z" fill="#fff" stroke="#00f" stroke-width="1.6" stroke-linejoin="miter"/><circle cx="425.98" cy="292.78" r="0.7" fill="#00f"/>
<path d="M439.87,297.64L443.77,304.24L435.97,304.24Z" fill="#fff" stroke="#00f" stroke-width="1.6" stroke-linejoin="miter"/><circle cx="439.87" cy="301.74" r="0.7" fill="#00f"/>
<path d="M453.76,310.1L457.66,316.7L449.86,316.7Z" fill="#fff" stroke="#00f" stroke-width="1.6" stroke-linejoin="miter"/><circle cx="453.76" cy="314.2" r="0.7" fill="#00f"/>
<path d="M467.65,321.86L471.55,328.46L463.75,328.46Z" fill="#fff" stroke="#00f" stroke-width="1.6" stroke-linejoin="miter"/><circle cx="467.65" cy="325.96" r="0.7" fill="#00f"/>
<path d="M481.54,333.52L485.44,340.12L477.64,340.12Z" fill="#fff" stroke="#00f" stroke-width="1.6" stroke-linejoin="miter"/><circle cx="481.54" cy="337.62" r="0.7" fill="#00f"/>
<path d="M495.43,343.88L499.33,350.48L491.53,350.48Z" fill="#fff" stroke="#00f" stroke-width="1.6" stroke-linejoin="miter"/><circle cx="495.43" cy="347.98" r="0.7" fill="#00f"/>
<path d="M509.32,351.85L513.22,358.45L505.42,358.45Z" fill="#fff" stroke="#00f" stroke-width="1.6" stroke-linejoin="miter"/><circle cx="509.32" cy="355.95" r="0.7" fill="#00f"/>
<path d="M523.21,356.84L527.11,363.44L519.31,363.44Z" fill="#fff" stroke="#00f" stroke-width="1.6" stroke-linejoin="miter"/><circle cx="523.21" cy="360.94" r="0.7" fill="#00f"/>
<path d="M537.1,357.63L541,364.23L533.2,364.23Z" fill="#fff" stroke="#00f" stroke-width="1.6" stroke-linejoin="miter"/><circle cx="537.1" cy="361.73" r="0.7" fill="#00f"/>
<path d="M550.99,356.84L554.89,363.44L547.09,363.44Z" fill="#fff" stroke="#00f" stroke-width="1.6" stroke-linejoin="miter"/><circle cx="550.99" cy="360.94" r="0.7" fill="#00f"/>
<path d="M564.88,351.85L568.78,358.45L560.98,358.45Z" fill="#fff" stroke="#00f" stroke-width="1.6" stroke-linejoin="miter"/><circle cx="564.88" cy="355.95" r="0.7" fill="#00f"/>
<path d="M578.77,343.88L582.67,350.48L574.87,350.48Z" fill="#fff" stroke="#00f" stroke-width="1.6" stroke-linejoin="miter"/><circle cx="578.77" cy="347.98" r="0.7" fill="#00f"/>
<path d="M592.66,333.52L596.56,340.12L588.76,340.12Z" fill="#fff" stroke="#00f" stroke-width="1.6" stroke-linejoin="miter"/><circle cx="592.66" cy="337.62" r="0.7" fill="#00f"/>
<path d="M606.55,321.86L610.45,328.46L602.65,328.46Z" fill="#fff" stroke="#00f" stroke-width="1.6" stroke-linejoin="miter"/><circle cx="606.55" cy="325.96" r="0.7" fill="#00f"/>
<path d="M620.44,310.1L624.34,316.7L616.54,316.7Z" fill="#fff" stroke="#00f" stroke-width="1.6" stroke-linejoin="miter"/><circle cx="620.44" cy="314.2" r="0.7" fill="#00f"/>
<path d="M634.33,297.64L638.23,304.24L630.43,304.24Z" fill="#fff" stroke="#00f" stroke-width="1.6" stroke-linejoin="miter"/><circle cx="634.33" cy="301.74" r="0.7" fill="#00f"/>
<path d="M648.22,288.68L652.12,295.28L644.32,295.28Z" fill="#fff" stroke="#00f" stroke-width="1.6" stroke-linejoin="miter"/><circle cx="648.22" cy="292.78" r="0.7" fill="#00f"/>
<path d="M662.11,284.19L666.01,290.79L658.21,290.79Z" fill="#fff" stroke="#00f" stroke-width="1.6" stroke-linejoin="miter"/><circle cx="662.11" cy="288.29" r="0.7" fill="#00f"/>
<path d="M676,281.7L679.9,288.3L672.1,288.3Z" fill="#fff" stroke="#00f" stroke-width="1.6" stroke-linejoin="miter"/><circle cx="676" cy="285.8" r="0.7" fill="#00f"/>
<path d="M398.2,286.3 C400.51,286.3 407.46,286.23 412.09,286.3 M412.09,286.3 C416.72,286.36 421.35,286.49 425.98,286.69 M425.98,286.69 C430.61,286.89 435.24,286.98 439.87,287.49 M439.87,287.49 C444.5,288.01 449.13,288.62 453.76,289.78 M453.76,289.78 C458.39,290.95 463.02,292.66 467.65,294.47 M467.65,294.47 C472.28,296.28 476.91,298.54 481.54,300.65 M481.54,300.65 C486.17,302.75 490.8,305.21 495.43,307.12 M495.43,307.12 C500.06,309.03 504.69,310.54 509.32,312.1 M509.32,312.1 C513.95,313.67 518.58,315.59 523.21,316.49 M523.21,316.49 C527.84,317.39 532.47,317.49 537.1,317.49 M537.1,317.49 C541.73,317.49 546.36,317.39 550.99,316.49 M550.99,316.49 C555.62,315.59 560.25,313.67 564.88,312.1 M564.88,312.1 C569.51,310.54 574.14,309.03 578.77,307.12 M578.77,307.12 C583.4,305.21 588.03,302.75 592.66,300.65 M592.66,300.65 C597.29,298.54 601.92,296.28 606.55,294.47 M606.55,294.47 C611.18,292.66 615.81,290.95 620.44,289.78 M620.44,289.78 C625.07,288.62 629.7,288.01 634.33,287.49 M634.33,287.49 C638.96,286.98 643.59,286.89 648.22,286.69 M648.22,286.69 C652.85,286.49 657.48,286.36 662.11,286.3 M662.11,286.3 C666.74,286.23 673.68,286.3 676,286.3" fill="none" stroke="#080" stroke-width="2" stroke-dasharray="9 6" stroke-linecap="butt"/>
<path d="M398.2,289.6L402.1,283L394.3,283Z" fill="#fff" stroke="#080" stroke-width="1.6" stroke-linejoin="miter"/><circle cx="398.2" cy="285.5" r="0.7" fill="#080"/>
<path d="M412.09,289.6L415.99,283L408.19,283Z" fill="#fff" stroke="#080" stroke-width="1.6" stroke-linejoin="miter"/><circle cx="412.09" cy="285.5" r="0.7" fill="#080"/>
<path d="M425.98,289.99L429.88,283.39L422.08,283.39Z" fill="#fff" stroke="#080" stroke-width="1.6" stroke-linejoin="miter"/><circle cx="425.98" cy="285.89" r="0.7" fill="#080"/>
<path d="M439.87,290.79L443.77,284.19L435.97,284.19Z" fill="#fff" stroke="#080" stroke-width="1.6" stroke-linejoin="miter"/><circle cx="439.87" cy="286.69" r="0.7" fill="#080"/>
<path d="M453.76,293.08L457.66,286.48L449.86,286.48Z" fill="#fff" stroke="#080" stroke-width="1.6" stroke-linejoin="miter"/><circle cx="453.76" cy="288.98" r="0.7" fill="#080"/>
<path d="M467.65,297.77L471.55,291.17L463.75,291.17Z" fill="#fff" stroke="#080" stroke-width="1.6" stroke-linejoin="miter"/><circle cx="467.65" cy="293.67" r="0.7" fill="#080"/>
<path d="M481.54,303.95L485.44,297.35L477.64,297.35Z" fill="#fff" stroke="#080" stroke-width="1.6" stroke-linejoin="miter"/><circle cx="481.54" cy="299.85" r="0.7" fill="#080"/>
<path d="M495.43,310.42L499.33,303.82L491.53,303.82Z" fill="#fff" stroke="#080" stroke-width="1.6" stroke-linejoin="miter"/><circle cx="495.43" cy="306.32" r="0.7" fill="#080"/>
<path d="M509.32,315.4L513.22,308.8L505.42,308.8Z" fill="#fff" stroke="#080" stroke-width="1.6" stroke-linejoin="miter"/><circle cx="509.32" cy="311.3" r="0.7" fill="#080"/>
<path d="M523.21,319.79L527.11,313.19L519.31,313.19Z" fill="#fff" stroke="#080" stroke-width="1.6" stroke-linejoin="miter"/><circle cx="523.21" cy="315.69" r="0.7" fill="#080"/>
<path d="M537.1,320.79L541,314.19L533.2,314.19Z" fill="#fff" stroke="#080" stroke-width="1.6" stroke-linejoin="miter"/><circle cx="537.1" cy="316.69" r="0.7" fill="#080"/>
<path d="M550.99,319.79L554.89,313.19L547.09,313.19Z" fill="#fff" stroke="#080" stroke-width="1.6" stroke-linejoin="miter"/><circle cx="550.99" cy="315.69" r="0.7" fill="#080"/>
<path d="M564.88,315.4L568.78,308.8L560.98,308.8Z" fill="#fff" stroke="#080" stroke-width="1.6" stroke-linejoin="miter"/><circle cx="564.88" cy="311.3" r="0.7" fill="#080"/>
<path d="M578.77,310.42L582.67,303.82L574.87,303.82Z" fill="#fff" stroke="#080" stroke-width="1.6" stroke-linejoin="miter"/><circle cx="578.77" cy="306.32" r="0.7" fill="#080"/>
<path d="M592.66,303.95L596.56,297.35L588.76,297.35Z" fill="#fff" stroke="#080" stroke-width="1.6" stroke-linejoin="miter"/><circle cx="592.66" cy="299.85" r="0.7" fill="#080"/>
<path d="M606.55,297.77L610.45,291.17L602.65,291.17Z" fill="#fff" stroke="#080" stroke-width="1.6" stroke-linejoin="miter"/><circle cx="606.55" cy="293.67" r="0.7" fill="#080"/>
<path d="M620.44,293.08L624.34,286.48L616.54,286.48Z" fill="#fff" stroke="#080" stroke-width="1.6" stroke-linejoin="miter"/><circle cx="620.44" cy="288.98" r="0.7" fill="#080"/>
<path d="M634.33,290.79L638.23,284.19L630.43,284.19Z" fill="#fff" stroke="#080" stroke-width="1.6" stroke-linejoin="miter"/><circle cx="634.33" cy="286.69" r="0.7" fill="#080"/>
<path d="M648.22,289.99L652.12,283.39L644.32,283.39Z" fill="#fff" stroke="#080" stroke-width="1.6" stroke-linejoin="miter"/><circle cx="648.22" cy="285.89" r="0.7" fill="#080"/>
<path d="M662.11,289.6L666.01,283L658.21,283Z" fill="#fff" stroke="#080" stroke-width="1.6" stroke-linejoin="miter"/><circle cx="662.11" cy="285.5" r="0.7" fill="#080"/>
<path d="M676,289.6L679.9,283L672.1,283Z" fill="#fff" stroke="#080" stroke-width="1.6" stroke-linejoin="miter"/><circle cx="676" cy="285.5" r="0.7" fill="#080"/>
<path d="M400.6,414.6H423.9" stroke="#000" stroke-width="2" stroke-dasharray="8 6"/>
<rect x="410.7" y="411.6" width="6" height="6" fill="#fff" stroke="#000" stroke-width="1.6"/><rect x="413.1" y="414" width="1.2" height="1.2" fill="#000"/>
<text x="430.5" y="418.9" font-size="14.2">Mg-Y</text>
<path d="M400.6,432.4H423.9" stroke="#f00" stroke-width="2" stroke-dasharray="1.6 2.6"/>
<circle cx="413.7" cy="432.4" r="3.3" fill="#fff" stroke="#f00" stroke-width="1.6"/><circle cx="413.7" cy="432.4" r="0.7" fill="#f00"/>
<text x="430.5" y="436.7" font-size="14.2">Mg-Zn</text>
<path d="M400.6,450.4H423.9" stroke="#00f" stroke-width="2" stroke-dasharray="4 5"/>
<path d="M413.7,447.1L417.6,453.7L409.8,453.7Z" fill="#fff" stroke="#00f" stroke-width="1.6" stroke-linejoin="miter"/><circle cx="413.7" cy="451.2" r="0.7" fill="#00f"/>
<text x="430.5" y="454.7" font-size="14.2">Mg-Al</text>
<path d="M400.6,468H423.9" stroke="#080" stroke-width="2" stroke-dasharray="9 4 1.6 4"/>
<path d="M413.7,471.3L417.6,464.7L409.8,464.7Z" fill="#fff" stroke="#080" stroke-width="1.6" stroke-linejoin="miter"/><circle cx="413.7" cy="467.2" r="0.7" fill="#080"/>
<text x="430.5" y="472.3" font-size="14.2">Mg-Li</text>
<path d="M392,275.2H396" stroke="#000" stroke-width="2"/>
</svg>
</body></html>
